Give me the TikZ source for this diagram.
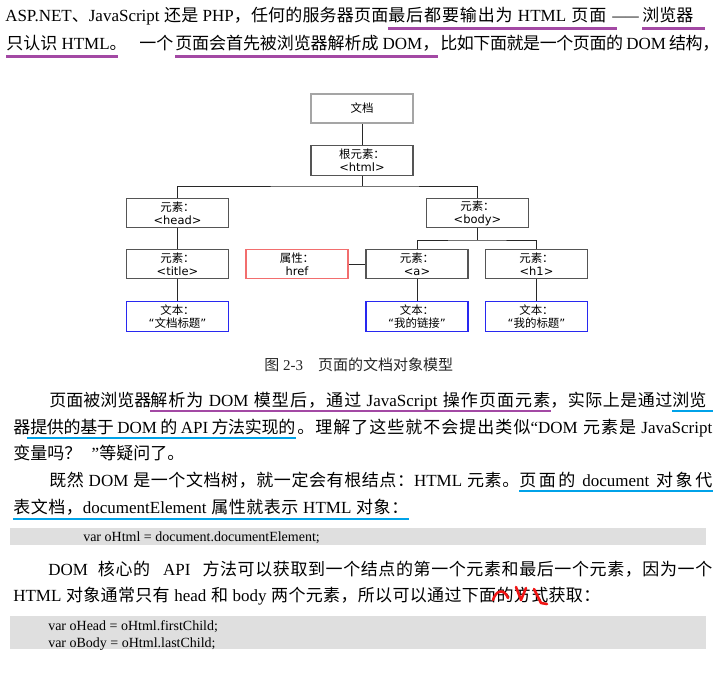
\documentclass[tikz,border=0pt]{standalone}
\usepackage{fontspec}
\usepackage{graphicx}
\setmainfont{Liberation Serif}
\newfontfamily\zh{Noto Sans CJK SC}
\newfontfamily\dsans{DejaVu Sans}
\usetikzlibrary{calc}
\newdimen\pxu \pxu=0.75pt
% automatic switch to the CJK font
\XeTeXinterchartokenstate=1
\newXeTeXintercharclass\zhcls
\newcount\zhcnt
\def\zhrange#1#2{\zhcnt=#1\relax\loop\XeTeXcharclass\zhcnt=\zhcls\advance\zhcnt by 1\relax\ifnum\zhcnt<#2\relax\repeat}
\zhrange{"3000}{"3040}
\zhrange{"4E00}{"A000}
\zhrange{"FF00}{"FFF0}
\XeTeXcharclass"201C=0 \XeTeXcharclass"201D=0 \XeTeXcharclass"2014=0
\XeTeXcharclass"2018=0 \XeTeXcharclass"2019=0 \XeTeXcharclass"2026=0
\XeTeXinterchartoks 0 \zhcls={\begingroup\zh}
\XeTeXinterchartoks 1 \zhcls={\begingroup\zh}
\XeTeXinterchartoks 2 \zhcls={\begingroup\zh}
\XeTeXinterchartoks 3 \zhcls={\begingroup\zh}
\XeTeXinterchartoks 4095 \zhcls={\begingroup\zh}
\XeTeXinterchartoks \zhcls 0={\endgroup}
\XeTeXinterchartoks \zhcls 1={\endgroup}
\XeTeXinterchartoks \zhcls 2={\endgroup}
\XeTeXinterchartoks \zhcls 3={\endgroup}
\XeTeXinterchartoks \zhcls 4095={\endgroup}
\XeTeXinterchartoks \zhcls \zhcls={\hskip 0pt plus 1.5pt minus 0.4pt\relax}
\newcommand\sfit[2]{\makebox[#1\pxu][s]{#2}}
\newcommand\spadfit[3]{\makebox[\dimexpr#1\pxu+#2\pxu\relax][l]{\makebox[#1\pxu][s]{#3}}}
\definecolor{ulpurple}{RGB}{163,73,164}
\definecolor{ulblue}{RGB}{0,162,232}
\definecolor{codebg}{RGB}{223,223,223}
\definecolor{boxgray}{RGB}{85,85,85}
\definecolor{docgray}{RGB}{165,165,165}
\definecolor{boxred}{RGB}{242,110,110}
\definecolor{boxblue}{RGB}{40,40,240}
\definecolor{connc}{RGB}{40,40,40}
\definecolor{scrib}{RGB}{240,20,20}
\tikzset{
  txt/.style={inner sep=0pt, anchor=base west, font=\fontsize{12.75pt}{15pt}\selectfont},
  codetxt/.style={inner sep=0pt, anchor=base west, font=\fontsize{10.5pt}{12pt}\selectfont},
  pul/.style={draw=ulpurple, line width=1.9pt},
  bul/.style={draw=ulblue, line width=1.9pt},
  ebox/.style={draw=boxgray, line width=0.9pt, minimum width=76.5pt, minimum height=22pt,
    inner sep=0pt, align=center, font=\dsans\fontsize{8.6pt}{9.75pt}\selectfont},
  conn/.style={draw=connc, line width=0.75pt},
  scribble/.style={draw=scrib, line width=1.9pt, line cap=round, line join=round}
}
\begin{document}
\begin{tikzpicture}[x=0.75pt,y=-0.75pt]
\useasboundingbox (0,0) rectangle (724,682);
\fill[white] (0,0) rectangle (724,682);

% ---------- paragraph 1
\node[txt] (p1a) at (5,21.5) {\sfit{383}{ASP.NET、JavaScript 还是 PHP，任何的服务器页面}};
\node[txt] (p1b) at (388,21.5) {\spadfit{218}{10}{最后都要输出为 HTML 页面}};
\node[txt] (p1c) at (612,21.5) {\scalebox{0.78}[1]{——}};
\node[txt] (p1d) at (642,21.5) {\spadfit{51}{11}{浏览器}};
\draw[pul] ($(p1b.base west)+(0,7)$) -- ($(p1b.base east)+(0,7)$);
\draw[pul] ($(p1d.base west)+(0,7)$) -- ($(p1d.base east)+(0,7)$);

\node[txt] (p2a) at (6,49.5) {\makebox[111\pxu][l]{只认识 HTML。}};
\node[txt] (p2b) at (139,49.5) {一个};
\node[txt] (p2c) at (175,49.5) {\sfit{264}{页面会首先被浏览器解析成 DOM，}};
\node[txt] (p2d) at (440,49.5) {\sfit{279}{比如下面就是一个页面的 DOM 结构，}};
\draw[pul] ($(p2a.base west)+(0,7)$) -- ($(p2a.base east)+(0,7)$);
\draw[pul] ($(p2c.base west)+(0,7)$) -- ($(p2c.base east)+(-2,7)$);

% ---------- diagram
\node[ebox, draw=docgray, line width=1.4pt] (doc) at (362,108.5) {文档};
\node[ebox] (root) at (362,160.5) {根元素：\\<html>};
\node[ebox] (head) at (177.5,213) {元素：\\<head>};
\node[ebox] (body) at (477.5,213) {元素：\\<body>};
\node[ebox] (title) at (177.5,264) {元素：\\<title>};
\node[ebox, draw=boxred] (href) at (297,264) {属性：\\href};
\node[ebox] (a) at (417,264) {元素：\\<a>};
\node[ebox] (h1) at (536.5,264) {元素：\\<h1>};
\node[ebox, draw=boxblue] (ttitle) at (177.5,316.5) {文本：\\“文档标题”};
\node[ebox, draw=boxblue] (ta) at (417,316.5) {文本：\\“我的链接”};
\node[ebox, draw=boxblue] (th1) at (536.5,316.5) {文本：\\“我的标题”};
\coordinate (j1) at (362,186);
\coordinate (j2) at (477.5,240);
\draw[conn] (doc.south) -- (root.north);
\draw[conn] (root.south) -- (j1);
\draw[conn] (head.north) |- (j1) -| (body.north);
\draw[conn] (body.south) -- (j2);
\draw[conn] (a.north) |- (j2) -| (h1.north);
\draw[conn] (head.south) -- (title.north);
\draw[conn] (title.south) -- (ttitle.north);
\draw[conn] (a.south) -- (ta.north);
\draw[conn] (h1.south) -- (th1.north);
\draw[conn] (href.east) -- (a.west);

\node[txt, font=\fontsize{11.25pt}{13pt}\selectfont, text=black!85] (cap) at (264,370.7) {图 2-3　页面的文档对象模型};

% ---------- paragraph 2
\node[txt] (q1a) at (49,406.5) {页面被浏览器};
\node[txt] (q1b) at (150,406.5) {\sfit{400}{解析为 DOM 模型后，通过 JavaScript 操作页面元素}};
\node[txt] (q1c) at (550,406.5) {\sfit{122}{，实际上是通过}};
\node[txt] (q1d) at (672,406.5) {\spadfit{34}{6}{浏览}};
\draw[pul] ($(q1b.base west)+(0,4.5)$) -- ($(q1b.base east)+(0,4.5)$);
\draw[bul] ($(q1d.base west)+(0,4.5)$) -- ($(q1d.base east)+(0,4.5)$);

\node[txt] (q2a) at (13,433.5) {器};
\node[txt] (q2b) at (30,433.5) {\sfit{265}{提供的基于 DOM 的 API 方法实现的}};
\node[txt] (q2c) at (297,433.5) {\sfit{415}{。理解了这些就不会提出类似“DOM 元素是 JavaScript}};
\draw[bul] ($(q2b.base west)+(-3,4.5)$) -- ($(q2b.base east)+(0,4.5)$);

\node[txt] (q3a) at (13,459.5) {变量吗？\makebox[18\pxu][r]{”}等疑问了。};

\node[txt] (q4a) at (49,486.5) {\sfit{470}{既然 DOM 是一个文档树，就一定会有根结点：HTML 元素。}};
\node[txt] (q4b) at (519,486.5) {\sfit{193}{页面的 document 对象代}};
\draw[bul] ($(q4b.base west)+(0,4.5)$) -- ($(q4b.base east)+(0,4.5)$);

\node[txt] (q5a) at (13,513.5) {\sfit{395}{表文档，documentElement 属性就表示 HTML 对象：}};
\draw[bul] ($(q5a.base west)+(0,5.5)$) -- ($(q5a.base east)+(0,5.5)$);

% ---------- code 1
\fill[codebg] (10,528) rectangle (706,545);
\node[codetxt] (c1) at (83,541) {var oHtml = document.documentElement;};

% ---------- paragraph 3
\node[txt] (r1a) at (48,575.5) {\sfit{664}{DOM\hspace{10\pxu}核心的\hspace{13\pxu}API\hspace{12\pxu}方法可以获取到一个结点的第一个元素和最后一个元素，因为一个}};
\node[txt] (r2a) at (13,601.5) {\sfit{587}{HTML 对象通常只有 head 和 body 两个元素，所以可以通过下面的方式获取：}};

\draw[scribble] (493,600) .. controls (496,590) and (504,588) .. (508,598);
\draw[scribble] (516,587) -- (521,600) -- (526,588);
\draw[scribble] (534,589) -- (541,603) -- (547,604);

% ---------- code 2
\fill[codebg] (10,616) rectangle (706,649);
\node[codetxt] (c2) at (48,630) {var oHead = oHtml.firstChild;};
\node[codetxt] (c3) at (48,647) {var oBody = oHtml.lastChild;};
\end{tikzpicture}
\end{document}
